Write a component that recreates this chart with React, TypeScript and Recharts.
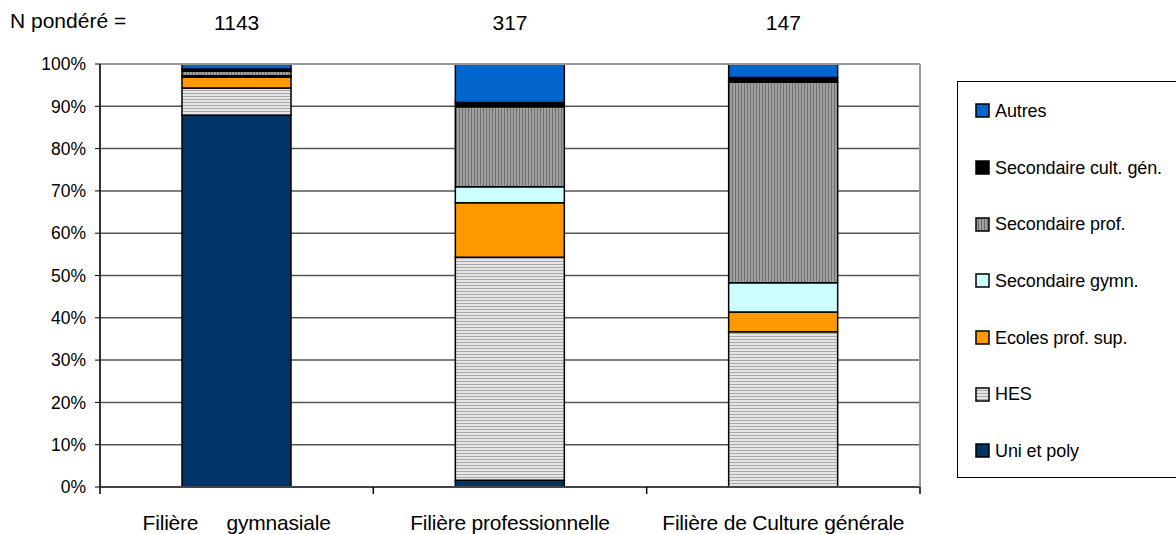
import React from "react";
import { BarChart, Bar, XAxis, YAxis, CartesianGrid } from "recharts";

const categories = ["Filière     gymnasiale", "Filière professionnelle", "Filière de Culture générale"];
const nPondere = [1143, 317, 147];

const uniEtPoly = [87.9, 1.6, 0];
const hes = [6.4, 52.7, 36.7];
const ecolesProfSup = [2.6, 12.9, 4.7];
const secondaireGymn = [0.3, 3.8, 6.9];
const secondaireProf = [1.1, 18.9, 47.4];
const secondaireCultGen = [0.5, 1.0, 1.1];
const autres = [1.2, 9.1, 3.2];

const yTicks = [0, 10, 20, 30, 40, 50, 60, 70, 80, 90, 100];

const series = [
  { key: "uni", name: "Uni et poly", values: uniEtPoly, fill: "#003366" },
  { key: "hes", name: "HES", values: hes, fill: "url(#hesPattern)" },
  { key: "ecoles", name: "Ecoles prof. sup.", values: ecolesProfSup, fill: "#ff9900" },
  { key: "gymn", name: "Secondaire gymn.", values: secondaireGymn, fill: "#ccffff" },
  { key: "prof", name: "Secondaire prof.", values: secondaireProf, fill: "url(#profPattern)" },
  { key: "cult", name: "Secondaire cult. gén.", values: secondaireCultGen, fill: "#000000" },
  { key: "autres", name: "Autres", values: autres, fill: "#0066cc" },
];

const data = categories.map((c, i) => {
  const row: any = { name: c };
  series.forEach((s) => (row[s.key] = s.values[i]));
  return row;
});

const FONT = "'Liberation Sans', Arial, sans-serif";

const TopTick = (props: any) => {
  const { x, y, payload } = props;
  return (
    <text x={x} y={y - 26} textAnchor="middle" fontSize={21} fill="#000" fontFamily={FONT}>
      {nPondere[payload.index]}
    </text>
  );
};

// label centred under the bar, plus tick marks on the category boundaries
const BottomTick = (props: any) => {
  const { x, y, payload } = props;
  const half = payload.offset || 0;
  const axisY = y - 8;
  return (
    <g>
      {payload.index === 0 && (
        <line x1={x - half} x2={x - half} y1={axisY} y2={axisY + 7} stroke="#000" strokeWidth={1.5} />
      )}
      <line x1={x + half} x2={x + half} y1={axisY} y2={axisY + 7} stroke="#000" strokeWidth={1.5} />
      <text
        x={x}
        y={y + 35}
        textAnchor="middle"
        fontSize={21}
        fill="#000"
        fontFamily={FONT}
        letterSpacing={-0.2}
        style={{ whiteSpace: "pre" }}
      >
        {payload.value}
      </text>
    </g>
  );
};

const LegendBox = () => (
  <div
    style={{
      position: "absolute",
      left: 957,
      top: 81,
      width: 230,
      height: 397,
      border: "1px solid #000",
      boxSizing: "border-box",
      fontFamily: FONT,
      fontSize: 18,
      paddingTop: 1,
    }}
  >
    {[...series].reverse().map((s) => (
      <div key={s.key} style={{ display: "flex", alignItems: "center", height: 56.7, marginLeft: 17 }}>
        <svg width={16} height={16} style={{ marginRight: 4 }}>
          <rect x={1} y={1} width={13} height={13} fill={s.fill} stroke="#000" strokeWidth={1.5} />
        </svg>
        <span style={{ letterSpacing: -0.1 }}>{s.name}</span>
      </div>
    ))}
  </div>
);

export default function App() {
  return (
    <div style={{ position: "relative", width: 1176, height: 534, background: "#fff" }}>
      <style>{"body{margin:0}"}</style>
      <div style={{ position: "absolute", left: 10, top: 9, fontFamily: FONT, fontSize: 21 }}>
        N pondéré =
      </div>
      <BarChart
        width={1176}
        height={534}
        data={data}
        margin={{ top: 0, right: 0, bottom: 0, left: 0 }}
        barCategoryGap="30%"
      >
        <defs>
          <pattern id="hesPattern" width={4} height={3} patternUnits="userSpaceOnUse">
            <rect width={4} height={3} fill="#e6e6e6" />
            <rect width={4} height={1} fill="#a8a8a8" />
          </pattern>
          <pattern id="profPattern" width={3} height={4} patternUnits="userSpaceOnUse">
            <rect width={3} height={4} fill="#a0a0a0" />
            <rect width={1} height={4} fill="#6e6e6e" />
          </pattern>
        </defs>
        <CartesianGrid vertical={false} stroke="#555" strokeWidth={1.5} />
        <XAxis
          xAxisId="main"
          dataKey="name"
          height={47}
          tickLine={false}
          axisLine={{ stroke: "#444", strokeWidth: 2 }}
          tick={<BottomTick />}
          interval={0}
        />
        <XAxis
          xAxisId="top"
          orientation="top"
          dataKey="name"
          height={64}
          tickLine={false}
          axisLine={{ stroke: "#999", strokeWidth: 2 }}
          tick={<TopTick />}
          interval={0}
        />
        <YAxis
          domain={[0, 100]}
          ticks={yTicks}
          tickFormatter={(v) => `${v}%`}
          width={100}
          interval={0}
          tickSize={5}
          tickMargin={9}
          tickLine={{ stroke: "#000" }}
          axisLine={{ stroke: "#333", strokeWidth: 2 }}
          tick={{ fontSize: 17.5, fill: "#000", fontFamily: FONT }}
        />
        <YAxis
          yAxisId="right"
          orientation="right"
          width={256}
          domain={[0, 100]}
          tick={false}
          tickLine={false}
          axisLine={{ stroke: "#999", strokeWidth: 2 }}
        />
        {series.map((s) => (
          <Bar
            key={s.key}
            xAxisId="main"
            dataKey={s.key}
            name={s.name}
            stackId="a"
            fill={s.fill}
            stroke="#000"
            strokeWidth={1.5}
            isAnimationActive={false}
          />
        ))}
      </BarChart>
      <LegendBox />
    </div>
  );
}
